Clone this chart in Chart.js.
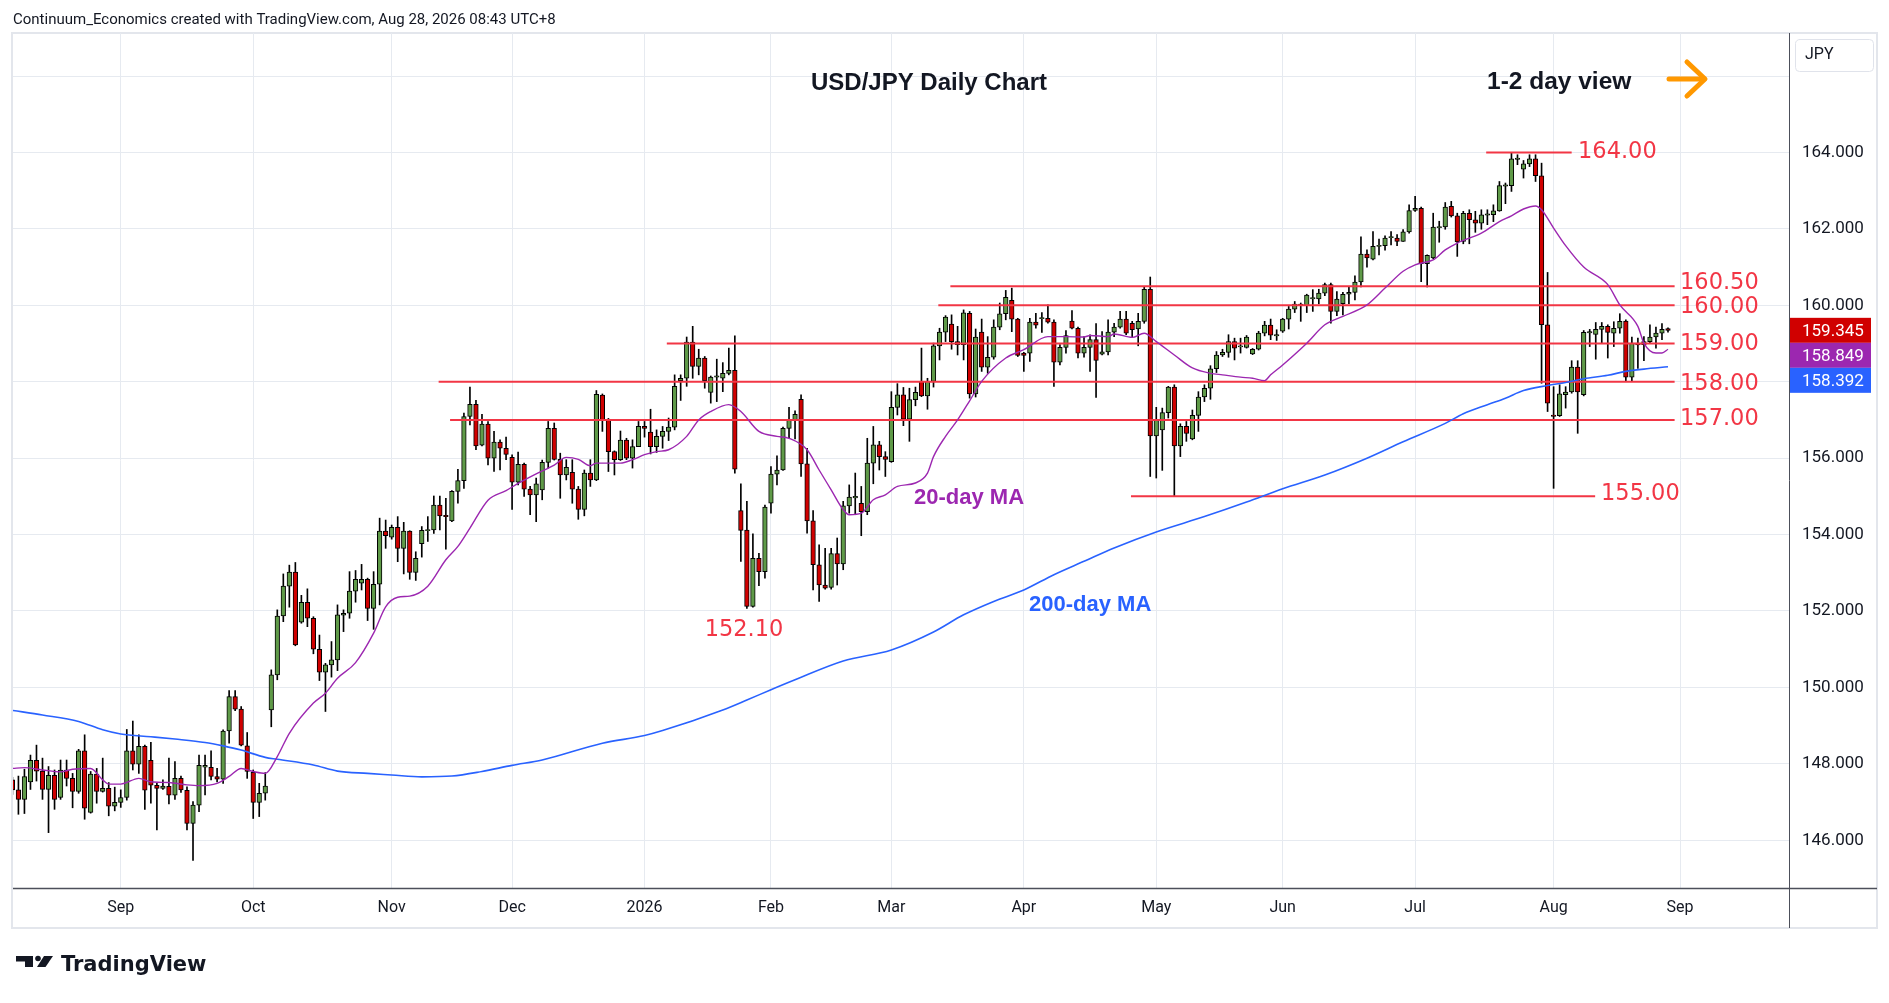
<!DOCTYPE html>
<html><head><meta charset="utf-8">
<script src="https://cdn.jsdelivr.net/npm/chart.js@4.4.1/dist/chart.umd.min.js"></script>
<style>html,body{margin:0;padding:0;background:#fff;}canvas{display:block;}</style>
</head><body>
<canvas id="c" width="1889" height="1003" style="width:1889px;height:1003px"></canvas>
<script>
// ---- DATA (USD/JPY daily, trading-day index 0 = 1 Sep 2025) ----
const firstBarIndex = -18;
const opens = [
147.58,147.32,147.07,147.53,148.09,147.81,147.33,147.70,147.12,147.84,
147.62,147.28,148.34,146.73,147.73,147.28,147.36,146.89,146.99,147.12,
148.34,147.99,148.46,148.09,147.44,147.36,147.41,147.18,147.62,147.31,
146.44,146.92,147.91,147.91,147.67,147.60,148.86,149.76,149.43,148.47,
147.78,146.99,147.23,149.41,150.33,151.87,152.65,153.02,151.71,152.23,
151.81,151.00,150.40,150.59,150.72,151.89,151.94,152.52,152.73,152.83,
152.07,152.70,154.09,153.93,154.19,153.64,154.09,153.01,153.76,154.10,
154.12,154.77,154.49,154.36,155.13,155.41,157.09,157.41,156.34,156.89,
156.00,156.42,156.26,156.02,155.37,155.84,155.19,155.04,155.17,155.89,
156.78,155.97,155.56,155.63,155.19,154.66,155.61,155.43,157.65,157.00,
156.17,155.96,156.47,156.00,156.30,156.83,156.68,156.30,156.57,156.70,
156.81,158.03,158.09,159.04,158.40,158.62,157.72,158.12,158.09,158.22,
158.30,154.63,154.12,152.12,153.38,153.03,154.82,155.58,155.69,156.78,
156.99,157.54,155.85,154.36,153.21,152.68,152.62,153.50,153.23,154.75,
154.96,154.82,154.60,155.87,156.35,156.04,155.91,157.33,157.66,157.02,
157.53,158.01,157.63,158.01,158.94,159.30,159.51,159.05,158.97,159.79,
157.68,159.30,158.38,158.64,159.43,159.78,160.13,159.64,158.75,158.75,
159.56,159.65,159.66,159.56,158.51,158.90,159.59,159.40,158.75,158.90,
159.10,158.72,158.78,159.30,159.43,159.64,159.53,159.38,159.58,160.42,
156.58,156.74,157.19,157.86,156.32,156.83,156.50,157.12,157.60,157.83,
158.34,158.70,158.77,159.05,158.91,158.90,158.73,158.85,159.27,159.48,
159.20,159.32,159.64,159.90,160.03,159.99,160.17,160.17,160.32,160.54,
159.84,160.04,160.29,160.34,160.61,161.34,161.21,161.54,161.56,161.77,
161.76,161.67,161.92,162.48,162.54,161.09,161.24,162.03,162.05,162.59,
162.34,161.67,162.41,162.24,162.15,162.36,162.37,162.47,163.12,163.13,
163.82,163.56,163.70,163.83,163.39,159.49,157.13,157.11,157.66,157.73,
158.38,157.66,159.28,159.24,159.37,159.45,159.27,159.40,159.59,158.12,
159.01,158.97,159.05,159.17,159.27,159.39];
const highs = [
147.65,147.68,147.86,148.23,148.49,148.15,147.93,147.84,148.10,148.10,
147.75,148.38,148.76,147.80,147.88,148.15,147.51,147.39,147.32,148.90,
149.12,148.76,148.49,148.56,147.49,147.58,148.15,148.06,147.68,147.40,
147.01,148.23,148.23,148.34,147.88,148.89,149.92,149.92,149.50,148.82,
147.84,147.49,147.77,150.46,152.03,152.97,153.20,153.27,152.41,152.58,
151.85,151.37,150.63,151.20,152.16,152.03,153.03,153.06,153.22,152.86,
153.03,154.43,154.38,154.25,154.47,154.32,154.10,153.55,154.21,154.47,
155.01,155.01,154.95,155.15,155.71,157.18,157.86,157.51,157.15,156.96,
156.70,156.48,156.55,156.09,156.16,155.87,155.26,155.48,155.95,156.96,
156.92,156.13,155.96,155.96,155.26,155.69,155.96,157.77,157.68,157.04,
156.19,156.71,156.52,156.48,156.96,156.96,157.28,156.74,156.83,157.05,
158.18,158.18,159.17,159.45,158.85,158.66,158.15,158.59,158.50,158.88,
159.20,155.33,154.87,154.02,153.51,154.77,155.78,156.06,156.81,157.33,
157.24,157.66,156.26,154.63,153.73,153.64,153.64,153.91,154.87,155.30,
155.61,155.26,156.52,156.83,156.44,156.17,157.74,157.95,157.85,157.83,
157.86,158.88,158.09,159.01,159.40,159.73,159.75,159.45,159.88,159.84,
159.38,159.64,159.18,159.62,160.06,160.39,160.45,159.66,158.77,159.66,
159.79,159.81,160.01,159.62,158.97,159.34,159.86,159.43,159.18,159.23,
159.52,159.31,159.62,159.53,159.84,159.84,159.58,159.79,160.48,160.74,
157.33,157.31,157.88,157.92,156.90,156.96,157.26,157.74,157.92,158.42,
158.79,158.85,159.23,159.14,159.14,159.21,158.87,159.32,159.58,159.64,
159.36,159.66,159.97,160.10,160.06,160.29,160.41,160.42,160.58,160.58,
160.36,160.34,160.48,160.77,161.79,161.45,161.93,161.73,161.82,161.93,
161.85,161.98,162.63,162.85,162.57,161.32,162.41,162.20,162.69,162.72,
162.41,162.46,162.50,162.46,162.50,162.50,162.63,163.24,163.20,164.00,
163.94,163.79,163.94,163.94,163.72,160.86,157.87,157.92,157.87,158.55,
158.55,159.34,159.37,159.55,159.55,159.49,159.57,159.78,159.62,159.17,
159.14,159.18,159.49,159.43,159.52,159.41];
const lows = [
147.20,146.68,146.70,147.33,147.55,147.07,146.20,146.81,147.07,147.42,
146.85,147.23,146.55,146.71,146.97,147.26,146.64,146.77,146.86,147.05,
147.84,147.75,146.81,146.97,146.27,147.33,146.95,147.07,147.25,146.27,
145.47,146.75,147.19,147.58,147.53,147.49,148.54,149.39,148.47,147.62,
146.57,146.62,147.05,148.97,150.20,151.72,152.10,151.09,151.68,151.59,
150.88,150.18,149.37,150.27,150.44,151.46,151.81,152.23,152.55,151.75,
151.52,152.16,153.64,153.88,153.29,152.97,152.83,152.80,153.41,153.82,
154.03,154.12,153.62,154.34,154.82,155.21,156.87,156.22,156.32,155.82,
155.65,155.69,155.96,154.66,155.30,155.00,154.52,154.34,154.91,155.74,
155.95,154.95,155.43,154.82,154.40,154.49,155.26,155.41,156.70,155.65,
155.56,155.94,155.96,155.74,156.30,156.55,156.11,156.15,156.26,156.46,
156.74,157.51,157.88,158.09,158.18,157.83,157.44,157.48,157.74,158.18,
155.61,153.30,152.07,152.10,152.66,152.86,154.56,155.30,155.68,156.52,
156.50,155.52,154.04,152.55,152.25,152.57,152.57,152.68,153.08,154.56,
154.52,153.97,154.52,155.33,155.69,155.52,155.89,157.13,156.85,156.44,
157.37,157.61,157.28,157.86,158.57,159.05,158.85,158.70,158.57,157.57,
157.60,158.27,158.22,158.59,159.36,159.62,159.31,158.66,158.27,158.53,
159.40,159.29,159.53,157.88,158.44,158.75,159.38,158.62,158.64,158.27,
157.59,158.70,158.70,159.18,159.40,159.23,159.18,158.94,159.53,155.52,
155.48,155.68,157.05,155.01,156.04,156.44,156.48,156.70,157.48,157.54,
158.24,158.66,158.64,158.57,158.75,158.88,158.71,158.83,159.20,159.10,
159.08,159.29,159.38,159.81,159.58,159.81,159.84,160.04,160.25,159.53,
159.73,159.75,160.04,160.14,160.48,161.00,161.19,161.32,161.44,161.58,
161.56,161.67,161.89,162.46,160.62,160.48,161.22,161.65,161.99,162.31,
161.28,161.61,161.61,161.91,161.99,162.11,162.19,162.46,162.66,162.98,
163.68,163.33,163.63,163.24,157.96,157.22,155.21,157.09,157.31,157.70,
156.65,157.63,158.92,158.59,159.02,158.62,158.92,159.27,158.03,158.03,
158.35,158.55,159.01,158.88,159.10,159.30];
const closes = [
147.32,147.07,147.67,148.09,147.81,147.33,147.70,147.07,147.84,147.62,
147.28,148.34,146.84,147.73,147.28,147.36,146.89,146.99,147.12,148.34,
147.99,148.46,147.31,147.44,147.36,147.42,147.18,147.62,147.32,146.44,
146.92,147.96,147.96,147.67,147.60,148.86,149.76,149.43,148.49,147.80,
146.99,147.23,147.42,150.33,151.87,152.65,153.02,151.11,152.23,151.81,
151.00,150.40,150.59,150.72,151.90,151.94,152.52,152.83,152.83,152.07,
152.70,154.09,153.97,154.19,153.64,154.09,153.01,153.38,154.11,154.12,
154.77,154.49,154.47,155.13,155.41,157.09,157.41,156.32,156.89,156.00,
156.42,156.26,156.10,155.37,155.84,155.19,155.04,155.33,155.89,156.78,
155.97,155.56,155.76,155.19,154.66,155.61,155.43,157.67,157.00,156.17,
155.96,156.47,156.00,156.30,156.83,156.78,156.30,156.57,156.70,156.81,
157.88,158.09,159.04,158.40,158.62,158.03,158.12,158.14,158.22,158.30,
155.71,154.11,152.12,153.38,153.03,154.72,155.58,155.69,156.78,156.99,
157.15,155.85,154.36,153.21,152.68,152.60,153.50,153.23,154.75,154.98,
155.00,154.60,155.87,156.35,156.04,155.97,157.33,157.66,157.02,157.53,
157.72,157.63,158.01,158.94,159.30,159.69,159.05,158.97,159.80,157.68,
159.17,158.38,158.64,159.43,159.78,160.21,159.64,158.69,158.69,159.56,
159.48,159.66,159.56,158.51,158.90,159.21,159.40,158.75,158.90,159.10,
158.56,158.78,159.30,159.43,159.64,159.27,159.36,159.58,160.42,156.58,
156.99,157.19,157.86,156.32,156.83,156.65,157.12,157.60,157.83,158.34,
158.70,158.77,159.05,158.88,158.93,159.17,158.85,159.27,159.48,159.22,
159.22,159.64,159.90,160.03,159.99,160.27,160.19,160.32,160.54,159.84,
160.16,160.29,160.34,160.61,161.34,161.24,161.54,161.56,161.76,161.79,
161.67,161.92,162.48,162.54,161.09,161.31,162.05,162.05,162.57,162.34,
161.66,162.41,162.24,162.15,162.37,162.38,162.47,163.13,163.14,163.83,
163.84,163.70,163.83,163.39,159.49,157.44,157.09,157.68,157.73,158.38,
157.73,159.29,159.30,159.37,159.45,159.29,159.40,159.58,158.12,159.01,
158.96,159.05,159.17,159.27,159.37,159.345];

// 20-day moving average (bar index, value)
const ma20Index = [-18,-16,-13,-10,-8,-5,-3,-2,0,3,5,8,11,13,16,18,20,22,24,26,28,32,34,36,39,42,44,46,48,51,54,56,58,61,64,66,69,72,74,76,78,79,83,85,87,89,91,94,96,98,101,103,106,109,111,114,116,118,120,121,123,125,127,129,132,134,135,137,139,141,143,147,150,154,157,160,161,164,165,168,170,172,175,178,181,183,186,188,190,191,193,197,200,203,207,210,213,215,218,220,222,226,229,231,233,235,236,238,240,243,247,249,252,253,255,256,257];
const ma20Values = [147.88,147.90,147.84,147.79,147.86,147.88,147.58,147.47,147.47,147.62,147.53,147.51,147.45,147.43,147.49,147.67,147.88,147.80,147.75,148.19,148.80,149.59,149.85,150.24,150.65,151.42,152.11,152.36,152.39,152.65,153.34,153.69,154.17,154.90,155.15,155.34,155.59,155.82,156.02,155.97,155.80,155.87,155.87,155.96,156.09,156.17,156.22,156.57,157.00,157.22,157.40,157.22,156.70,156.57,156.52,156.22,155.69,155.17,154.65,154.52,154.56,154.91,155.04,155.26,155.35,155.61,156.04,156.57,157.00,157.50,158.01,158.62,158.84,159.18,159.18,159.17,159.21,159.18,159.25,159.16,159.27,159.05,158.70,158.36,158.22,158.18,158.12,158.09,158.03,158.18,158.44,159.01,159.49,159.71,160.01,160.45,160.89,161.06,161.19,161.45,161.63,161.89,162.19,162.34,162.52,162.60,162.50,162.02,161.56,161.00,160.54,160.01,159.45,159.01,158.75,158.75,158.85];
// 200-day moving average
const ma200Index = [-18,-13,-7,-3,0,5,9,14,17,20,24,26,32,36,41,45,50,55,60,65,70,80,87,90,100,104,108,112,120,128,135,140,145,150,155,160,165,172,180,187,193,200,207,213,220,223,227,230,233,237,240,243,247,250,253,257];
const ma200Values = [149.40,149.28,149.11,148.89,148.78,148.71,148.65,148.56,148.47,148.36,148.17,148.12,147.97,147.81,147.75,147.71,147.66,147.68,147.80,147.96,148.10,148.54,148.74,148.87,149.41,149.67,149.94,150.20,150.69,150.98,151.45,151.90,152.25,152.55,152.95,153.30,153.65,154.07,154.47,154.85,155.20,155.56,156.00,156.43,156.91,157.16,157.40,157.57,157.77,157.90,157.98,158.08,158.17,158.27,158.33,158.39];

// axis ticks
const monthTickIndex = [0,22,45,65,87,108,128,150,172,193,215,238,259];
const monthTickLabels = ['Sep','Oct','Nov','Dec','2026','Feb','Mar','Apr','May','Jun','Jul','Aug','Sep'];
const priceTicks = [146,148,150,152,154,156,158,160,162,164,166];
const hiddenPriceTicks = [166];

// support / resistance levels drawn on the chart
const levelValues = [164, 160.5, 160, 159, 158, 157, 155];
const levelLabels = ['164.00','160.50','160.00','159.00','158.00','157.00','155.00'];
const levelStartIndex = [226.8, 137.8, 135.8, 90.7, 52.8, 54.7, 167.8];
const levelEndIndex = [241.0, 258.1, 258.1, 258.1, 258.1, 258.1, 244.9];
const lowLabelValue = 152.10;
const lastClose = 159.345, lastMa20 = 158.849, lastMa200 = 158.392;

// ---- BUILD ----
const barX = opens.map((_, i) => firstBarIndex + i);
const UP = '#5f9a48', DOWN = '#d00000', LEVEL = '#f23645', PURPLE = '#9c27b0', BLUE = '#2962ff';
const bodyData = barX.map((x, i) => ({x, y: [opens[i], closes[i]]}));
const wickData = barX.map((x, i) => ({x, y: [lows[i], highs[i]]}));
const bodyColors = barX.map((x, i) => closes[i] >= opens[i] ? UP : DOWN);

const levelSets = levelValues.map((v, k) => ({
  type: 'line', data: [{x: levelStartIndex[k], y: v}, {x: levelEndIndex[k], y: v}],
  borderColor: LEVEL, borderWidth: 2, pointRadius: 0, order: 1
}));

const labelLayout = { left: [1578,1680,1680,1680,1680,1680,1601], dy: [-2,-5,0,-2,0,-3,-4] };

const deco = {
  id: 'deco',
  beforeDraw(chart) {
    const c = chart.ctx;
    c.save();
    c.fillStyle = '#ffffff'; c.fillRect(0, 0, chart.width, chart.height);
    c.strokeStyle = '#e3e6ec'; c.lineWidth = 2;
    c.strokeRect(12, 33, 1865, 895);
    c.restore();
  },
  afterDraw(chart) {
    const c = chart.ctx, ys = chart.scales.y, ca = chart.chartArea;
    c.save();
    // axis lines
    c.strokeStyle = '#4c4f5a'; c.lineWidth = 1.5;
    c.beginPath(); c.moveTo(13, ca.bottom + 0.5); c.lineTo(1877, ca.bottom + 0.5); c.stroke();
    c.lineWidth = 1;
    c.beginPath(); c.moveTo(ca.right + 0.5, 33); c.lineTo(ca.right + 0.5, 928); c.stroke();

    // header
    c.fillStyle = '#131722'; c.font = '15px Roboto'; c.textBaseline = 'middle'; c.textAlign = 'left';
    c.fillText('Continuum_Economics created with TradingView.com, Aug 28, 2026 08:43 UTC+8', 13, 20);

    // titles
    c.font = 'bold 24px "Liberation Sans"';
    c.textAlign = 'center';
    c.fillText('USD/JPY Daily Chart', 929, 83);
    c.textAlign = 'left';
    c.font = 'bold 24.5px "Liberation Sans"';
    c.fillText('1-2 day view', 1487, 82);

    // orange arrow
    c.strokeStyle = '#ff9800'; c.lineWidth = 5; c.lineCap = 'round'; c.lineJoin = 'round';
    c.beginPath(); c.moveTo(1669, 79); c.lineTo(1704, 79); c.stroke();
    c.beginPath(); c.moveTo(1687, 62); c.lineTo(1705, 79); c.lineTo(1687, 96); c.stroke();

    // level labels
    c.fillStyle = LEVEL; c.font = '22.5px "DejaVu Sans"'; c.textBaseline = 'alphabetic'; c.textAlign = 'left';
    levelValues.forEach((v, k) => {
      const y = ys.getPixelForValue(v) + labelLayout.dy[k] + 8;
      c.fillText(levelLabels[k], labelLayout.left[k], y);
    });
    c.textAlign = 'center';
    c.fillText(lowLabelValue.toFixed(2), 744, ys.getPixelForValue(lowLabelValue) + 21 + 8);

    // MA labels
    c.textAlign = 'left'; c.textBaseline = 'middle';
    c.font = 'bold 22px "Liberation Sans"';
    c.fillStyle = PURPLE; c.fillText('20-day MA', 914, 498);
    c.fillStyle = BLUE; c.fillText('200-day MA', 1029, 605);

    // JPY box
    c.fillStyle = '#ffffff'; c.strokeStyle = '#e0e3eb'; c.lineWidth = 1;
    c.beginPath();
    if (c.roundRect) c.roundRect(1795.5, 39.5, 78, 32, 4); else c.rect(1795.5, 39.5, 78, 32);
    c.fill(); c.stroke();
    c.fillStyle = '#131722'; c.font = '16px Roboto'; c.textBaseline = 'middle';
    c.fillText('JPY', 1805, 55);

    // price tags
    const tags = [[lastClose, DOWN], [lastMa20, PURPLE], [lastMa200, BLUE]];
    const cy = ys.getPixelForValue(lastClose);
    c.font = '17px Roboto';
    tags.forEach(([v, col], k) => {
      const yy = cy + k * 25;
      c.fillStyle = col; c.fillRect(1790, yy - 12.5, 81, 25);
      c.fillStyle = '#ffffff'; c.fillText(v.toFixed(3), 1802, yy + 1);
    });

    // TradingView logo
    c.fillStyle = '#131722';
    c.fillRect(16, 956, 17, 5.5);
    c.fillRect(25, 956, 8, 11);
    c.beginPath(); c.arc(38, 958.5, 2.8, 0, Math.PI * 2); c.fill();
    c.beginPath(); c.moveTo(44, 956); c.lineTo(53, 956); c.lineTo(45.5, 967); c.lineTo(37, 967); c.closePath(); c.fill();
    c.font = 'bold 21px "DejaVu Sans"'; c.textBaseline = 'alphabetic';
    c.fillText('TradingView', 61, 971);
    c.restore();
  }
};

new Chart(document.getElementById('c'), {
  type: 'bar',
  data: {
    datasets: [
      { type: 'line', label: '20-day MA', data: ma20Index.map((x, i) => ({x, y: ma20Values[i]})),
        borderColor: PURPLE, borderWidth: 1.4, pointRadius: 0, cubicInterpolationMode: 'monotone', order: 0 },
      { type: 'line', label: '200-day MA', data: ma200Index.map((x, i) => ({x, y: ma200Values[i]})),
        borderColor: BLUE, borderWidth: 1.6, pointRadius: 0, cubicInterpolationMode: 'monotone', order: 0 },
      ...levelSets,
      { type: 'bar', label: 'bodies', data: bodyData, backgroundColor: bodyColors, borderColor: '#000000',
        borderWidth: 1, borderSkipped: false, barThickness: 4.6, minBarLength: 1.2, grouped: false, order: 2 },
      { type: 'bar', label: 'wicks', data: wickData, backgroundColor: '#000000', borderWidth: 0,
        barThickness: 1, grouped: false, order: 3 }
    ]
  },
  options: {
    responsive: false, animation: false, devicePixelRatio: 1,
    layout: { padding: { left: 13, top: 33, right: 12, bottom: 75 } },
    plugins: { legend: { display: false }, tooltip: { enabled: false } },
    scales: {
      x: {
        type: 'linear', min: -17.9, max: 277.1, offset: false, bounds: 'data',
        grid: { offset: false, color: '#e6eaf0', lineWidth: 1, drawTicks: false },
        border: { display: false },
        afterBuildTicks: s => { s.ticks = monthTickIndex.map(v => ({value: v})); },
        afterFit: s => { s.height = 40; },
        ticks: { autoSkip: false, maxRotation: 0, minRotation: 0, padding: 10, color: '#131722',
          font: { size: 16, family: 'Roboto' }, callback: (v, i) => monthTickLabels[i] }
      },
      y: {
        type: 'linear', position: 'right', min: 144.751, max: 167.126, bounds: 'data',
        grid: { color: '#e6eaf0', lineWidth: 1, drawTicks: false },
        border: { display: false },
        afterBuildTicks: s => { s.ticks = priceTicks.map(v => ({value: v})); },
        afterFit: s => { s.width = 88; },
        ticks: { padding: 13, color: '#131722', font: { size: 17, family: 'Roboto' },
          callback: v => hiddenPriceTicks.includes(v) ? '' : Number(v).toFixed(3) }
      }
    }
  },
  plugins: [deco]
});
</script>
</body></html>
